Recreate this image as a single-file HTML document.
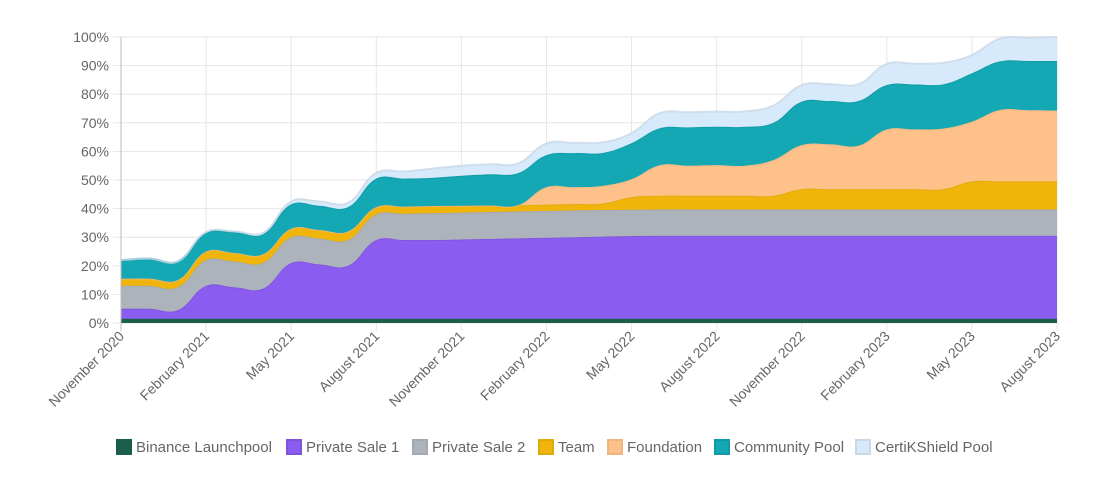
<!DOCTYPE html>
<html><head><meta charset="utf-8">
<style>
html,body{margin:0;padding:0;background:#fff;}
body{width:1097px;height:483px;overflow:hidden;font-family:"Liberation Sans",Arial,sans-serif;}
svg text{font-family:"Liberation Sans",Arial,sans-serif;fill:#666;font-size:14px;}
svg #legend text{font-size:15px;}
</style></head>
<body>
<svg id="chart" width="1097" height="483" viewBox="0 0 1097 483" xmlns="http://www.w3.org/2000/svg">
<g id="grid"></g>
<g id="areas"></g>
<g id="axes"></g>
<g id="legend"></g>
</svg>
<script>
const months = ["November 2020","December 2020","January 2021","February 2021","March 2021","April 2021","May 2021","June 2021","July 2021","August 2021","September 2021","October 2021","November 2021","December 2021","January 2022","February 2022","March 2022","April 2022","May 2022","June 2022","July 2022","August 2022","September 2022","October 2022","November 2022","December 2022","January 2023","February 2023","March 2023","April 2023","May 2023","June 2023","July 2023","August 2023"];
const xTickLabels = ["November 2020","February 2021","May 2021","August 2021","November 2021","February 2022","May 2022","August 2022","November 2022","February 2023","May 2023","August 2023"];
const yTickValues = [0,10,20,30,40,50,60,70,80,90,100];
const seriesNames = ["Binance Launchpool","Private Sale 1","Private Sale 2","Team","Foundation","Community Pool","CertiKShield Pool"];
const binanceLaunchpool = [1.5,1.5,1.5,1.5,1.5,1.5,1.5,1.5,1.5,1.5,1.5,1.5,1.5,1.5,1.5,1.5,1.5,1.5,1.5,1.5,1.5,1.5,1.5,1.5,1.5,1.5,1.5,1.5,1.5,1.5,1.5,1.5,1.5,1.5];
const privateSale1 = [3.5,3.5,3,11.5,11,10.5,19.5,19,18.5,27.5,27.5,27.5,27.7,27.9,28.1,28.3,28.5,28.7,28.9,29,29,29,29,29,29,29,29,29,29,29,29,29,29,29];
const privateSale2 = [8,8,8,9,9,9,9,9,9,9,9.2,9.4,9.4,9.4,9.4,9.4,9.4,9.3,9.2,9.2,9.2,9.2,9.2,9.2,9.2,9.2,9.2,9.2,9.2,9.2,9.2,9.2,9.2,9.2];
const team = [2.5,2.5,2.5,3,3,3,3,3,3,2.5,2.5,2.5,2.4,2.3,2.2,2.2,2.2,2.3,4.4,4.8,4.8,4.8,4.8,4.8,7.1,7.1,7.1,7.1,7.1,7.1,9.8,9.8,9.8,9.8];
const foundation = [0,0,0,0,0,0,0,0,0,0,0,0,0,0,0,6.1,5.9,6.2,6.3,10.7,10.5,10.7,10.5,12.5,15.4,15.7,15.2,20.9,20.9,21.2,20.9,25,24.9,24.8];
const communityPool = [6.5,7,6.5,6.5,7.3,7,8.5,8.5,8.5,10,9.8,9.9,10.5,10.9,11.2,11.2,11.9,11.5,12.6,12.9,13.4,13.4,13.6,13,15.2,15.1,15.6,15.5,15.7,15.5,16.9,17,17.2,17.3];
const certikShieldPool = [0,0,0,0.3,0.2,0.5,1,1.5,1.5,2,2.5,3.2,3.5,3.5,3.4,4.1,3.6,3.7,3.5,5.3,5.3,5.3,5.4,6,5.8,5.9,5.9,7.4,7.3,7.5,6.4,8,8.2,8.4];

const allSeries=[binanceLaunchpool,privateSale1,privateSale2,team,foundation,communityPool,certikShieldPool];
const fills=["#1b5e4b","#8b5cf0","#adb3bb","#f0b50a","#fdc189","#13a8b4","#d6eafb"];
const strokes=["#1b5e4b","#7f55d8","#a2a8b0","#e0a90c","#eeb782","#119aa5","#c9d8e6"];
const slugs=["binance-launchpool","private-sale-1","private-sale-2","team","foundation","community-pool","certikshield-pool"];
const NS="http://www.w3.org/2000/svg";
const L=121,R=1057,T=37,B=323;
const xs=i=>L+(R-L)*i/(months.length-1);
const ys=v=>B-(B-T)*v/100;
function mk(tag,attrs,parent){const e=document.createElementNS(NS,tag);for(const k in attrs)e.setAttribute(k,attrs[k]);parent.appendChild(e);return e;}
const grid=document.getElementById('grid'),areas=document.getElementById('areas'),axes=document.getElementById('axes'),legend=document.getElementById('legend');
yTickValues.forEach(v=>{
  const ln=mk('line',{x1:L-8,x2:R,y1:ys(v),y2:ys(v),stroke:'#e6e6e6','stroke-width':1},grid);
  
  
  const t=mk('text',{x:L-12,y:ys(v)+5,'text-anchor':'end'},axes);
  t.textContent=v+'%';
  
  
});
xTickLabels.forEach(lab=>{
  const i=months.indexOf(lab);const x=xs(i);
  const ln=mk('line',{x1:x,x2:x,y1:T,y2:B+8,stroke:'#e6e6e6','stroke-width':1},grid);
  
  
  const t=mk('text',{x:x+4,y:B+14,'text-anchor':'end',transform:`rotate(-45 ${x+4} ${B+14})`},axes);
  t.textContent=lab;
  
  
});
const ya=mk('line',{x1:L,x2:L,y1:T,y2:B+8,stroke:'#bbb','stroke-width':1},axes);


const cum=[];let run=months.map(()=>0);
allSeries.forEach(s=>{run=run.map((v,i)=>v+s[i]);cum.push(run.slice());});
function ctrl(pts){
  const t=0.4;return pts.map((p,i)=>{
    const a=pts[Math.max(i-1,0)],c=pts[Math.min(i+1,pts.length-1)];
    const d01=Math.hypot(p[0]-a[0],p[1]-a[1]),d12=Math.hypot(c[0]-p[0],c[1]-p[1]);
    let s01=d01/(d01+d12)||0,s12=d12/(d01+d12)||0;
    const fa=t*s01,fb=t*s12;
    return {p,prev:[p[0]-fa*(c[0]-a[0]),p[1]-fa*(c[1]-a[1])],next:[p[0]+fb*(c[0]-a[0]),p[1]+fb*(c[1]-a[1])]};
  });}
function pathOf(pts,move){const c=ctrl(pts);let d=(move?'M':'L')+c[0].p[0].toFixed(2)+','+c[0].p[1].toFixed(2);
  for(let i=1;i<c.length;i++){d+=`C${c[i-1].next[0].toFixed(2)},${c[i-1].next[1].toFixed(2)} ${c[i].prev[0].toFixed(2)},${c[i].prev[1].toFixed(2)} ${c[i].p[0].toFixed(2)},${c[i].p[1].toFixed(2)}`;}return d;}
cum.forEach((top,k)=>{
  const tp=top.map((v,i)=>[xs(i),ys(v)]);
  const bt=(k===0?months.map(()=>0):cum[k-1]).map((v,i)=>[xs(i),ys(v)]).reverse();
  const d=pathOf(tp,true)+pathOf(bt,false)+'Z';
  const a=mk('path',{d,fill:fills[k],stroke:'none'},areas);
  
  
  const l=mk('path',{d:pathOf(tp,true),fill:'none',stroke:strokes[k],'stroke-width':2,'stroke-opacity':0.8},areas);
  
  
});
const widths=[170,126,126,69,107,141,160];
let lx=116;
seriesNames.forEach((n,k)=>{
  const g=mk('g',{},legend);
  
  
  mk('rect',{x:lx+1,y:440,width:14,height:14,fill:fills[k],stroke:strokes[k],'stroke-width':2},g);
  const t=mk('text',{x:lx+20,y:452},g);t.textContent=n;
  lx+=widths[k];
});
</script>
</body></html>
